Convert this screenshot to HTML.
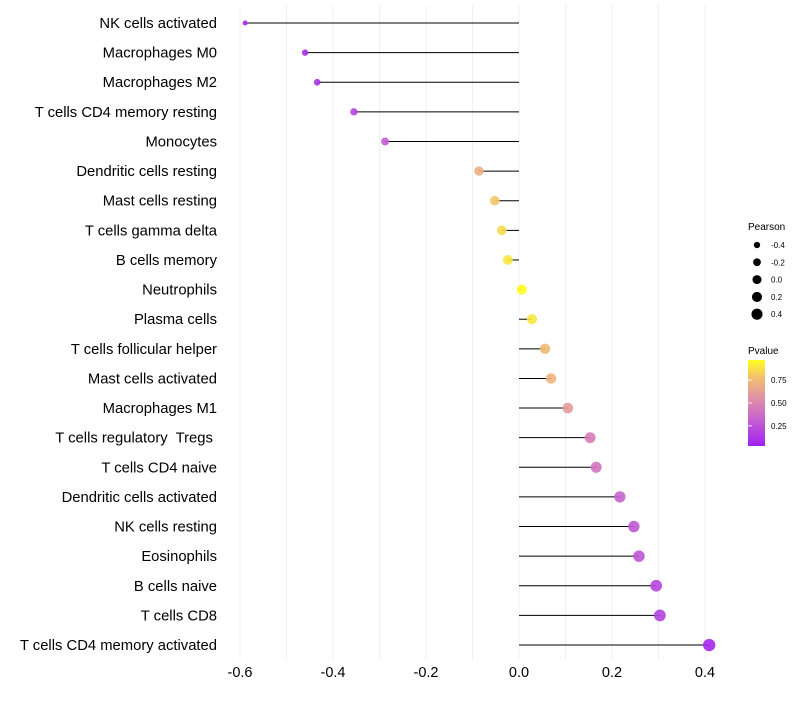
<!DOCTYPE html>
<html><head><meta charset="utf-8"><style>
body{margin:0;background:#fff;font-family:"Liberation Sans",sans-serif;}
svg text{font-family:"Liberation Sans",sans-serif;white-space:pre;}
</style></head><body>
<svg id="chart" width="800" height="700" xmlns="http://www.w3.org/2000/svg">
<defs>
<linearGradient id="pg" x1="0" y1="1" x2="0" y2="0">
<stop offset="0" stop-color="#A020F0"/>
<stop offset="0.3" stop-color="#C460D0"/>
<stop offset="0.55" stop-color="#E08FA8"/>
<stop offset="0.8" stop-color="#F2C070"/>
<stop offset="1" stop-color="#FFFF20"/>
</linearGradient>
</defs>
<g id="grid"></g><g id="marks"></g><g id="labels"></g><g id="xaxis"></g>
<g font-size="9">
<text x="748" y="230" font-size="10" fill="#000">Pearson</text>
<g id="sizeLegend"></g>
<text x="748" y="354" font-size="10" fill="#000">Pvalue</text>
<rect x="748" y="360" width="17" height="86" fill="url(#pg)"/>
<g id="colorTicks"></g>
</g>
</svg>
<script>
const categories=["NK cells activated","Macrophages M0","Macrophages M2","T cells CD4 memory resting","Monocytes","Dendritic cells resting","Mast cells resting","T cells gamma delta","B cells memory","Neutrophils","Plasma cells","T cells follicular helper","Mast cells activated","Macrophages M1","T cells regulatory  Tregs ","T cells CD4 naive","Dendritic cells activated","NK cells resting","Eosinophils","B cells naive","T cells CD8","T cells CD4 memory activated"];
const pearson=[-0.589,-0.46,-0.434,-0.355,-0.288,-0.086,-0.052,-0.037,-0.024,0.006,0.028,0.056,0.069,0.105,0.153,0.166,0.217,0.247,0.258,0.295,0.303,0.409];
const pvalue=[0.05,0.1,0.11,0.2,0.3,0.7,0.8,0.86,0.9,0.97,0.9,0.75,0.72,0.6,0.45,0.42,0.33,0.28,0.27,0.2,0.18,0.06];
const xTicks=[-0.6,-0.4,-0.2,0.0,0.2,0.4];
const xTickLabels=["-0.6","-0.4","-0.2","0.0","0.2","0.4"];
const sizeLegendValues=[-0.4,-0.2,0.0,0.2,0.4];
const sizeLegendLabels=["-0.4","-0.2","0.0","0.2","0.4"];
const colorTickValues=[0.25,0.5,0.75];
const colorTickLabels=["0.25","0.50","0.75"];
const NS="http://www.w3.org/2000/svg";
const x=v=>519+v*465;
const y=i=>23+i*29.62;
const r=v=>Math.sqrt(Math.max(2.2,25+32*v));
const stops=[[0,[160,32,240]],[0.3,[196,96,208]],[0.55,[224,143,168]],[0.8,[242,192,112]],[1,[255,255,32]]];
function col(p){let t=(p-0.03)/0.94;t=Math.max(0,Math.min(1,t));for(let k=1;k<stops.length;k++){if(t<=stops[k][0]){const a=stops[k-1],b=stops[k];const f=(t-a[0])/(b[0]-a[0]);return `rgb(${a[1].map((c,j)=>Math.round(c+(b[1][j]-c)*f)).join(',')})`;}}return "rgb(255,255,32)";}
function mk(t,attrs,parent){const e=document.createElementNS(NS,t);for(const k in attrs)e.setAttribute(k,attrs[k]);parent.appendChild(e);return e;}
const grid=document.getElementById('grid');
for(let v=-0.6;v<=0.41;v+=0.1){const l=mk('line',{x1:x(v),x2:x(v),y1:5,y2:660,stroke:'#f0f0f0','stroke-width':1},grid);

}
const marks=document.getElementById('marks');
categories.forEach((c,i)=>{
const l=mk('line',{x1:x(0),x2:x(pearson[i]),y1:y(i),y2:y(i),stroke:'#000','stroke-width':1},marks);


const p=mk('circle',{cx:x(pearson[i]),cy:y(i),r:r(pearson[i]),fill:col(pvalue[i]),'fill-opacity':0.9},marks);


const t=mk('text',{x:217,y:y(i)+5,'text-anchor':'end','font-size':14.8,fill:'#000'},document.getElementById('labels'));
t.textContent=c;


});
const xa=document.getElementById('xaxis');
xTicks.forEach((v,i)=>{const t=mk('text',{x:x(v),y:677,'text-anchor':'middle','font-size':14.5,fill:'#000'},xa);t.textContent=xTickLabels[i];

});
const sl=document.getElementById('sizeLegend');
sizeLegendValues.forEach((v,i)=>{const cy=245+i*17.3;
const c=mk('circle',{cx:757,cy:cy,r:r(v)*0.9,fill:'#000'},sl);


const t=mk('text',{x:771,y:cy+3,'font-size':8,fill:'#000'},sl);t.textContent=sizeLegendLabels[i];

});
const ct=document.getElementById('colorTicks');
colorTickValues.forEach((v,i)=>{const cy=446-(v-0.03)/0.94*86;
const l=mk('line',{x1:748,x2:752,y1:cy,y2:cy,stroke:'#fff','stroke-width':0.8},ct);


const t=mk('text',{x:771,y:cy+3,'font-size':8,fill:'#000'},ct);t.textContent=colorTickLabels[i];

});
</script>
</body></html>
